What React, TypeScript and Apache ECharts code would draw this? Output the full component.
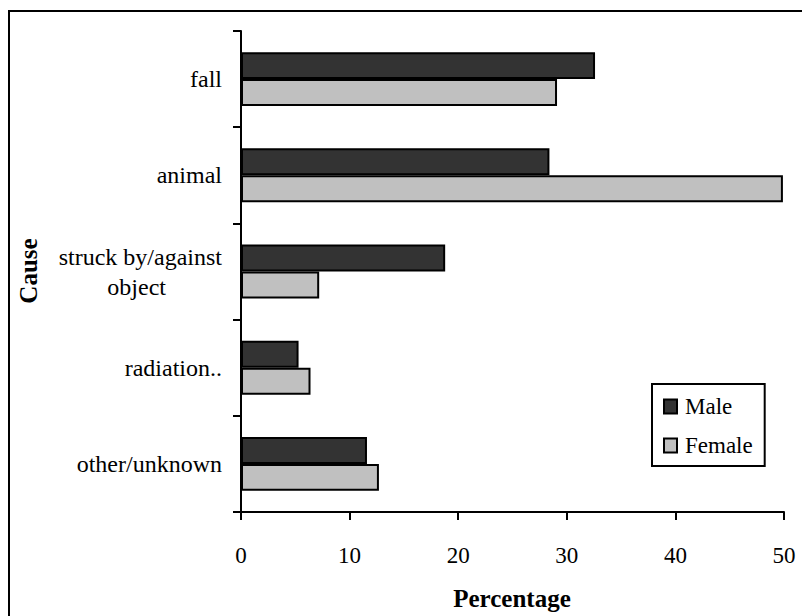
import React, { useEffect, useRef } from "react";
import * as echarts from "echarts";

const categories = ["fall", "animal", "struck by/against\nobject", "radiation..", "other/unknown"];
const maleValues = [32.6, 28.4, 18.8, 5.3, 11.6];
const femaleValues = [29.1, 49.9, 7.2, 6.4, 12.7];
const xTicks = { min: 0, max: 50, interval: 10 };
const xTitle = "Percentage";
const yTitle = "Cause";

const FONT = "Liberation Serif";

export default function App() {
  const ref = useRef<HTMLDivElement>(null);
  useEffect(() => {
    const chart = echarts.init(ref.current!, null, { renderer: "svg" });
    chart.setOption({
      animation: false,
      graphic: [
        {
          type: "rect",
          shape: { x: 9, y: 11, width: 820, height: 640 },
          style: { fill: "none", stroke: "#000", lineWidth: 2 },
          silent: true,
        },
        {
          type: "text",
          x: 512,
          y: 598,
          silent: true,
          style: {
            text: xTitle,
            fontFamily: FONT,
            fontSize: 25,
            fontWeight: "bold",
            fill: "#000",
            textAlign: "center",
            textVerticalAlign: "middle",
          },
        },
        {
          type: "text",
          x: 28,
          y: 271,
          rotation: Math.PI / 2,
          silent: true,
          style: {
            text: yTitle,
            fontFamily: FONT,
            fontSize: 25,
            fontWeight: "bold",
            fill: "#000",
            textAlign: "center",
            textVerticalAlign: "middle",
          },
        },
      ],
      grid: { left: 241, right: 18, top: 31, bottom: 104 },
      legend: {
        orient: "vertical",
        left: 652,
        top: 384,
        padding: [11, 12, 9, 11],
        borderColor: "#000",
        borderWidth: 2,
        itemGap: 16,
        itemWidth: 13,
        itemHeight: 14,
        icon: "rect",
        textStyle: { fontFamily: FONT, fontSize: 23, color: "#000", padding: [0, 0, 0, 3] },
        data: [
          { name: "Male", itemStyle: { borderColor: "#000", borderWidth: 2 } },
          { name: "Female", itemStyle: { borderColor: "#000", borderWidth: 2 } },
        ],
      },
      xAxis: {
        type: "value",
        min: xTicks.min,
        max: xTicks.max,
        interval: xTicks.interval,
        axisLine: { show: true, lineStyle: { color: "#000", width: 2 } },
        axisTick: { show: true, length: 8, lineStyle: { color: "#000", width: 2 } },
        axisLabel: { fontFamily: FONT, fontSize: 23, color: "#000", margin: 32 },
        splitLine: { show: false },
      },
      yAxis: {
        type: "category",
        inverse: true,
        data: categories,
        axisLine: { show: true, lineStyle: { color: "#000", width: 2 } },
        axisTick: { show: true, length: 8, lineStyle: { color: "#000", width: 2 } },
        axisLabel: {
          fontFamily: FONT,
          fontSize: 24,
          color: "#000",
          margin: 19,
          lineHeight: 30,
          formatter: (v: string) => {
            const parts = v.split("\n");
            if (parts.length > 1) {
              return "{main|" + parts[0] + "}\n{sub|" + parts[1] + "}";
            }
            return "{main|" + v + "}";
          },
          rich: {
            main: { fontFamily: FONT, fontSize: 24, color: "#000", lineHeight: 30 },
            sub: { fontFamily: FONT, fontSize: 24, color: "#000", padding: [0, 56, 0, 0], lineHeight: 30 },
          },
        },
        splitLine: { show: false },
      },
      series: [
        {
          name: "Male",
          type: "bar",
          data: maleValues,
          barGap: "0%",
          barCategoryGap: "44%",
          itemStyle: { color: "#333333", borderColor: "#000", borderWidth: 2 },
        },
        {
          name: "Female",
          type: "bar",
          data: femaleValues,
          barGap: "0%",
          barCategoryGap: "44%",
          itemStyle: { color: "#c0c0c0", borderColor: "#000", borderWidth: 2 },
        },
      ],
    });
    return () => chart.dispose();
  }, []);
  return (
    <div
      ref={ref}
      style={{ position: "absolute", left: 0, top: 0, width: 802, height: 616, background: "#ffffff" }}
    />
  );
}
